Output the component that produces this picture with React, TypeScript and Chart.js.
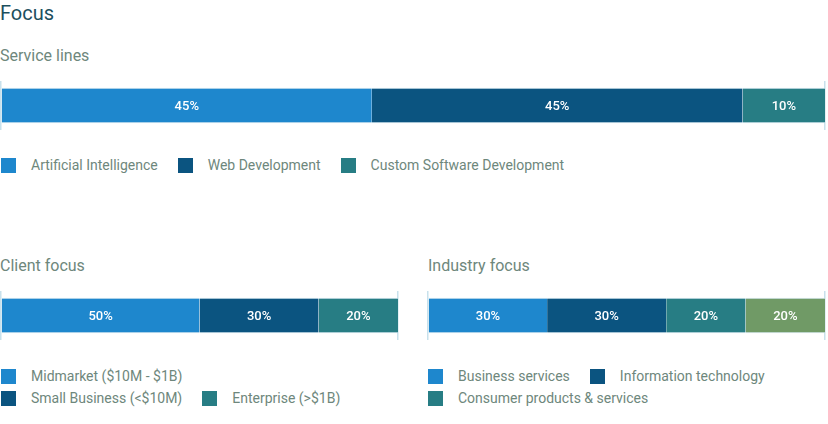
import React, { useEffect, useRef } from "react";
import { Chart, registerables } from "chart.js";

Chart.register(...registerables);

// ---------- data ----------
const serviceLabels = ["Artificial Intelligence", "Web Development", "Custom Software Development"];
const serviceValues = [45, 45, 10];

const clientLabels = ["Midmarket ($10M - $1B)", "Small Business (<$10M)", "Enterprise (>$1B)"];
const clientValues = [50, 30, 20];

const industryLabels = ["Business services", "Information technology", "Consumer products & services", "Other"];
const industryValues = [30, 30, 20, 20];

const palette = ["#1e87cd", "#0b5480", "#277d84", "#709a66"];

// legend rows (indices into labels)
const serviceLegendRows = [[0, 1, 2]];
const clientLegendRows = [[0], [1, 2]];
const industryLegendRows = [[0, 1], [2]];

const FONT = "Roboto, 'Noto Sans', Arial, sans-serif";
const TEXT_GREY = "#6e877c";

const segLabelPlugin = {
  id: "segLabels",
  afterDatasetsDraw(chart: any) {
    const ctx = chart.ctx;
    chart.data.datasets.forEach((ds: any, i: number) => {
      const meta = chart.getDatasetMeta(i);
      meta.data.forEach((el: any, j: number) => {
        const v = ds.data[j];
        const p = el.getProps(["x", "y", "base"], true);
        ctx.save();
        ctx.fillStyle = "#ffffff";
        ctx.font = "500 13px " + FONT;
        ctx.textAlign = "center";
        ctx.textBaseline = "middle";
        ctx.fillText(v + "%", (p.x + p.base) / 2, p.y + 1);
        ctx.restore();
      });
    });
  },
};

function StackBar({ labels, values, left, top, width, height }: any) {
  const ref = useRef<HTMLCanvasElement>(null);
  useEffect(() => {
    const chart = new Chart(ref.current!, {
      type: "bar",
      data: {
        labels: [""],
        datasets: values.map((v: number, i: number) => ({
          label: labels[i],
          data: [v],
          backgroundColor: palette[i],
          borderColor: "#cfe4ee",
          borderWidth: { top: 1, bottom: 1, left: 0, right: 0 },
          borderSkipped: false,
          categoryPercentage: 1,
          barPercentage: 0.72,
        })),
      },
      options: {
        indexAxis: "y",
        animation: false,
        responsive: true,
        maintainAspectRatio: false,
        layout: { padding: { left: 1, right: 1, top: 0, bottom: 0 } },
        plugins: { legend: { display: false }, tooltip: { enabled: false } },
        scales: {
          x: {
            stacked: true,
            min: 0,
            max: 100,
            ticks: { display: false, stepSize: 100 },
            grid: { color: "#c8e1ec", drawTicks: false, lineWidth: 1.5 },
            border: { display: false },
          },
          y: { stacked: true, display: false },
        },
      },
      plugins: [segLabelPlugin],
    } as any);
    return () => chart.destroy();
  }, []);
  return (
    <div style={{ position: "absolute", left, top, width, height }}>
      <canvas ref={ref} />
    </div>
  );
}

function Legend({ labels, rows, left, top, rowGap }: any) {
  return (
    <div style={{ position: "absolute", left, top }}>
      {rows.map((row: number[], r: number) => (
        <div
          key={r}
          style={{
            position: "absolute",
            left: 0,
            top: r * rowGap,
            display: "flex",
            alignItems: "center",
            height: 16,
            whiteSpace: "nowrap",
          }}
        >
          {row.map((idx) => (
            <div key={idx} style={{ display: "flex", alignItems: "center", marginRight: 20 }}>
              <div style={{ width: 15, height: 15, background: palette[idx], marginRight: 15 }} />
              <span style={{ font: "14px " + FONT, color: TEXT_GREY, lineHeight: "16px" }}>{labels[idx]}</span>
            </div>
          ))}
        </div>
      ))}
    </div>
  );
}

export default function App() {
  return (
    <div style={{ position: "fixed", left: 0, top: 0, width: 828, height: 424, background: "#fff", overflow: "hidden" }}>
      <div style={{ position: "absolute", left: 0, top: 1, font: "20px " + FONT, lineHeight: "24px", color: "#1c4f5e" }}>Focus</div>
      <div style={{ position: "absolute", left: 0, top: 46, font: "16px " + FONT, lineHeight: "20px", color: TEXT_GREY }}>Service lines</div>
      <StackBar labels={serviceLabels} values={serviceValues} left={0} top={81} width={826} height={49} />
      <Legend labels={serviceLabels} rows={serviceLegendRows} left={1} top={157} rowGap={22} />

      <div style={{ position: "absolute", left: 0, top: 256, font: "16px " + FONT, lineHeight: "20px", color: TEXT_GREY }}>Client focus</div>
      <StackBar labels={clientLabels} values={clientValues} left={0} top={291} width={399} height={49} />
      <Legend labels={clientLabels} rows={clientLegendRows} left={1} top={368} rowGap={22} />

      <div style={{ position: "absolute", left: 428, top: 256, font: "16px " + FONT, lineHeight: "20px", color: TEXT_GREY }}>Industry focus</div>
      <StackBar labels={industryLabels} values={industryValues} left={427} top={291} width={399} height={49} />
      <Legend labels={industryLabels} rows={industryLegendRows} left={428} top={368} rowGap={22} />
    </div>
  );
}
